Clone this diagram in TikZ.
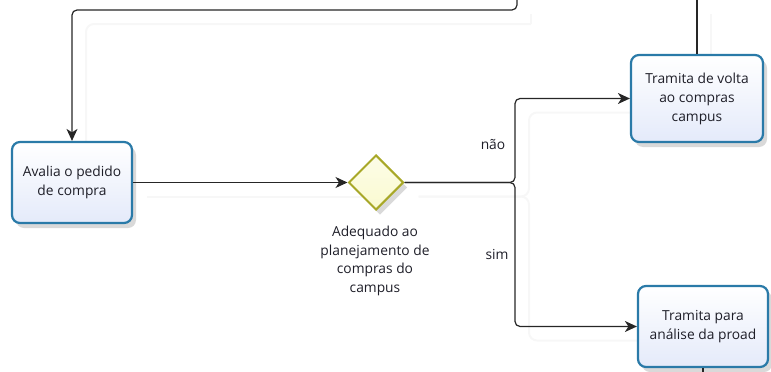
\documentclass[tikz,border=0pt]{standalone}
\usepackage{fontspec}
\setmainfont{Open Sans}
\usetikzlibrary{arrows.meta,shapes.geometric,shadows,backgrounds}
\definecolor{taskborder}{RGB}{42,122,168}
\definecolor{taskfill}{RGB}{228,234,250}
\definecolor{gwborder}{RGB}{168,168,40}
\definecolor{gwfill}{RGB}{250,250,208}
\definecolor{ghostgray}{RGB}{247,247,247}
\definecolor{txt}{RGB}{30,30,40}
\begin{document}
\begin{tikzpicture}[x=1pt,y=-1pt,
  every node/.style={text=txt},
  task/.style={draw=taskborder, line width=2.2pt, rounded corners=8pt,
    top color=white, bottom color=taskfill, align=center, inner sep=2pt,
    font=\fontsize{13.8}{19}\selectfont,
    drop shadow={shadow xshift=4pt, shadow yshift=-5pt, fill=black, opacity=0.15}},
  gateway/.style={diamond, shape aspect=1, draw=gwborder, line width=2pt,
    top color=gwfill!50, bottom color=gwfill, inner sep=0pt,
    minimum width=55pt, minimum height=55pt,
    drop shadow={shadow xshift=4pt, shadow yshift=-5pt, fill=black, opacity=0.15}},
  flow/.style={draw=black!85, line width=1.2pt, rounded corners=5pt,
    -{Stealth[length=12pt, width=11pt, inset=3.5pt]}},
  plain/.style={draw=black!85, line width=1.2pt, rounded corners=5pt},
  ghost/.style={draw=ghostgray, line width=2pt, rounded corners=8pt},
  lbl/.style={font=\fontsize{13.8}{18.6}\selectfont, align=center}]
\useasboundingbox (0,0) rectangle (771,372);

\node[task, minimum width=120pt, minimum height=81pt] (a) at (72,182.5) {Avalia o pedido\\de compra};
\node[gateway] (g) at (376,182.5) {};
\node[lbl] (gl) at (375,261) {Adequado ao\\planejamento de\\compras do\\campus};
\node[task, minimum width=132pt, minimum height=87pt] (b) at (697,98.5) {Tramita de volta\\ao compras\\campus};
\node[task, minimum width=130pt, minimum height=81pt] (c) at (703,326.5) {Tramita para\\análise da proad};

\coordinate (j) at (515,182.5);
\coordinate (top1) at (517,0);
\coordinate (k) at (517,10);
\coordinate (topb) at (697,0);
\coordinate (botc) at (705,372);

\node[lbl] (nao) at (493,145) {não};
\node[lbl] (sim) at (497,255) {sim};

\begin{scope}[on background layer]
  \begin{scope}[transform canvas={xshift=14pt, yshift=-14pt}]
    \draw[ghost] (k) -| (a.north);
    \draw[ghost] (a.east) -- (g.west);
    \draw[ghost] (g.east) -- (j) |- (b.west);
    \draw[ghost] (g.east) -- (j) |- (c.west);
    \draw[ghost] (b.north) -- (topb);
    \draw[ghost] (top1) -- (k);
  \end{scope}
\end{scope}

\draw[flow] (top1) -- (k) -| (a.north);
\draw[flow] (a.east) -- (g.west);
\draw[flow] (g.east) -- (j) |- (b.west);
\draw[flow] (g.east) -- (j) |- (c.west);
\draw[plain] (b.north) -- (topb);
\draw[plain] (c.south) -- (c.south |- botc);
\end{tikzpicture}
\end{document}
